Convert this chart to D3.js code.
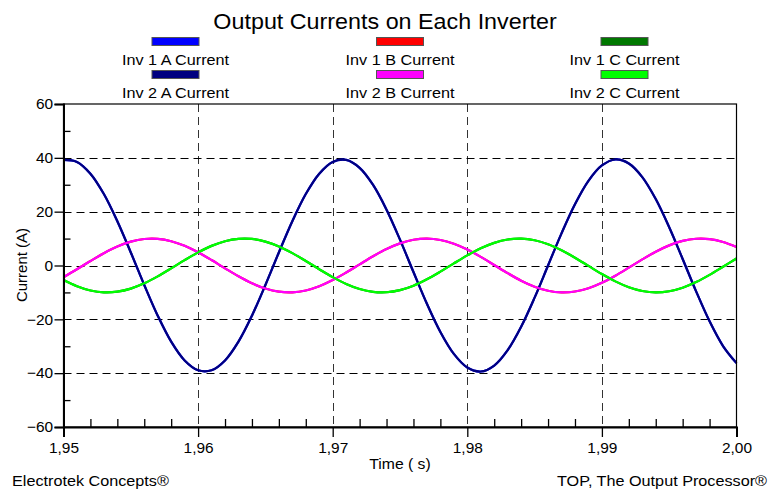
<!DOCTYPE html>
<html><head><meta charset="utf-8">
<script src="https://cdn.jsdelivr.net/npm/d3@7/dist/d3.min.js"></script>
<style>
html,body{margin:0;padding:0;background:#fff;}
svg{display:block;font-family:Arial,"Liberation Sans",sans-serif;}
</style></head><body>
<svg id="chart" width="770" height="491"></svg>
<script>
// ---- data ----
const time = [1.950,1.951,1.952,1.953,1.954,1.955,1.956,1.957,1.958,1.959,
  1.960,1.961,1.962,1.963,1.964,1.965,1.966,1.967,1.968,1.969,
  1.970,1.971,1.972,1.973,1.974,1.975,1.976,1.977,1.978,1.979,
  1.980,1.981,1.982,1.983,1.984,1.985,1.986,1.987,1.988,1.989,
  1.990,1.991,1.992,1.993,1.994,1.995,1.996,1.997,1.998,1.999,2.000];

const inv1A = [39.23,38.49,34.12,26.55,16.46,4.84,-7.24,-18.64,-28.29,-35.27,
  -38.93,-38.93,-35.27,-28.29,-18.64,-7.24,4.84,16.46,26.55,34.12,
  38.49,39.23,36.28,29.92,20.74,9.61,-2.43,-14.23,-24.70,-32.85,
  -37.90,-39.38,-37.16,-31.44,-22.76,-11.95,0.00,11.95,22.76,31.44,
  37.16,39.38,37.90,32.85,24.70,14.23,2.43,-9.61,-20.74,-29.92,-36.28];
const inv1B = [-4.35,-1.41,1.66,4.57,7.05,8.87,9.85,9.91,9.03,7.31,
  4.89,2.02,-1.05,-4.01,-6.60,-8.57,-9.73,-9.97,-9.28,-7.71,
  -5.42,-2.62,0.43,3.44,6.12,8.23,9.57,10.00,9.49,8.09,
  5.93,3.21,0.19,-2.85,-5.63,-7.87,-9.37,-9.99,-9.67,-8.44,
  -6.41,-3.78,-0.80,2.26,5.11,7.47,9.14,9.94,9.81,8.75,6.87];
const inv1C = [-5.39,-7.69,-9.27,-9.97,-9.73,-8.58,-6.62,-4.04,-1.08,1.99,
  4.87,7.29,9.02,9.90,9.86,8.88,7.07,4.59,1.69,-1.38,
  -4.32,-6.85,-8.74,-9.80,-9.94,-9.15,-7.49,-5.13,-2.29,0.77,
  3.75,6.39,8.42,9.66,9.99,9.38,7.89,5.65,2.89,-0.15,
  -3.18,-5.90,-8.07,-9.48,-10.00,-9.57,-8.25,-6.15,-3.47,-0.46,2.59];
const inv2A = [39.23,38.49,34.12,26.55,16.46,4.84,-7.24,-18.64,-28.29,-35.27,
  -38.93,-38.93,-35.27,-28.29,-18.64,-7.24,4.84,16.46,26.55,34.12,
  38.49,39.23,36.28,29.92,20.74,9.61,-2.43,-14.23,-24.70,-32.85,
  -37.90,-39.38,-37.16,-31.44,-22.76,-11.95,0.00,11.95,22.76,31.44,
  37.16,39.38,37.90,32.85,24.70,14.23,2.43,-9.61,-20.74,-29.92,-36.28];
const inv2B = [-4.35,-1.41,1.66,4.57,7.05,8.87,9.85,9.91,9.03,7.31,
  4.89,2.02,-1.05,-4.01,-6.60,-8.57,-9.73,-9.97,-9.28,-7.71,
  -5.42,-2.62,0.43,3.44,6.12,8.23,9.57,10.00,9.49,8.09,
  5.93,3.21,0.19,-2.85,-5.63,-7.87,-9.37,-9.99,-9.67,-8.44,
  -6.41,-3.78,-0.80,2.26,5.11,7.47,9.14,9.94,9.81,8.75,6.87];
const inv2C = [-5.39,-7.69,-9.27,-9.97,-9.73,-8.58,-6.62,-4.04,-1.08,1.99,
  4.87,7.29,9.02,9.90,9.86,8.88,7.07,4.59,1.69,-1.38,
  -4.32,-6.85,-8.74,-9.80,-9.94,-9.15,-7.49,-5.13,-2.29,0.77,
  3.75,6.39,8.42,9.66,9.99,9.38,7.89,5.65,2.89,-0.15,
  -3.18,-5.90,-8.07,-9.48,-10.00,-9.57,-8.25,-6.15,-3.47,-0.46,2.59];

const seriesNames = ["Inv 1 A Current","Inv 1 B Current","Inv 1 C Current",
                     "Inv 2 A Current","Inv 2 B Current","Inv 2 C Current"];
const seriesColors = ["#0000ff","#ff0000","#007800","#000080","#ff00ff","#00ff00"];
const seriesValues = [inv1A, inv1B, inv1C, inv2A, inv2B, inv2C];

const xTicks = [1.95,1.96,1.97,1.98,1.99,2.00];
const xTickLabels = ["1,95","1,96","1,97","1,98","1,99","2,00"];
const xMinorTicks = [1.952,1.954,1.956,1.958,1.962,1.964,1.966,1.968,1.972,1.974,1.976,1.978,
                     1.982,1.984,1.986,1.988,1.992,1.994,1.996,1.998];
const yTicks = [-60,-40,-20,0,20,40,60];
const yMinorTicks = [-50,-30,-10,10,30,50];

// ---- drawing ----
const svg = d3.select("#chart");
const L = 63.5, R = 736.5, T = 104, B = 427;
const x = d3.scaleLinear().domain([1.95, 2.00]).range([L, R]);
const y = d3.scaleLinear().domain([-60, 60]).range([B, T]);

function addText(px, py, str, size, anchor, sx, rot) {
  return svg.append("text")
    .attr("transform", `translate(${px},${py})` + (rot ? ` rotate(${rot})` : "") + ` scale(${sx},1)`)
    .attr("text-anchor", anchor).attr("font-size", size).attr("fill", "#000").text(str);
}

// title
addText(385, 28.5, "Output Currents on Each Inverter", 22, "middle", 1.06);

// legend
const colX = [175.5, 400, 624.5];
seriesNames.forEach((name, i) => {
  const col = i % 3, row = Math.floor(i / 3);
  const cx = colX[col];
  const sy = row === 0 ? 37.5 : 70.5;
  svg.append("rect").attr("x", cx - 23.5).attr("y", sy).attr("width", 47).attr("height", 8)
    .attr("fill", seriesColors[i]).attr("stroke", "#555").attr("stroke-width", 1);
  addText(cx, row === 0 ? 64.5 : 97.5, name, 15, "middle", 1.08);
});

// grid
const grid = svg.append("g");
grid.selectAll(".gx").data(xTicks.slice(1, -1)).enter().append("line")
  .attr("x1", d => Math.round(x(d)) + 0.5).attr("x2", d => Math.round(x(d)) + 0.5)
  .attr("y1", T).attr("y2", B)
  .attr("stroke", "#333").attr("stroke-width", 1).attr("stroke-dasharray", "8,5");
grid.selectAll(".gy").data(yTicks.slice(1, -1)).enter().append("line")
  .attr("x1", L).attr("x2", R)
  .attr("y1", d => Math.round(y(d)) + 0.5).attr("y2", d => Math.round(y(d)) + 0.5)
  .attr("stroke", "#000").attr("stroke-width", 1).attr("stroke-dasharray", "8,5");

// series
const line = d3.line().x((d, i) => x(time[i])).y(d => y(d)).curve(d3.curveCatmullRom.alpha(0.5));
const plot = svg.append("g");
seriesValues.forEach((vals, i) => {
  plot.append("path").datum(vals).attr("d", line).attr("fill", "none")
    .attr("stroke", seriesColors[i]).attr("stroke-width", 2.2);
});

// frame
svg.append("rect").attr("x", L).attr("y", T).attr("width", R - L).attr("height", B - T)
  .attr("fill", "none").attr("stroke", "#000").attr("stroke-width", 1.2);

// axes
const yAxis = d3.axisLeft(y).tickValues(yTicks).tickSize(9).tickPadding(1).tickFormat(d3.format("d"));
const gy = svg.append("g").attr("transform", `translate(${L},0)`).call(yAxis);
gy.select(".domain").attr("stroke-width", 2);
gy.selectAll(".tick line").attr("stroke-width", 1.3);
gy.selectAll("text").attr("font-size", 15).attr("fill","#000")
  .attr("font-family","Arial, 'Liberation Sans', sans-serif").attr("transform", "scale(1.03,1)");

const yMinor = d3.axisRight(y).tickValues(yMinorTicks).tickSize(7).tickFormat("");
const gym = svg.append("g").attr("transform", `translate(${L},0)`).call(yMinor);
gym.select(".domain").remove();
gym.selectAll(".tick line").attr("stroke-width", 1.3);

const xAxis = d3.axisBottom(x).tickValues(xTicks).tickSize(10).tickPadding(5)
  .tickFormat((d, i) => xTickLabels[i]);
const gx = svg.append("g").attr("transform", `translate(0,${B})`).call(xAxis);
gx.select(".domain").attr("stroke-width", 2);
gx.selectAll(".tick line").attr("stroke-width", 1.3);
gx.selectAll("text").attr("font-size", 15).attr("fill","#000")
  .attr("font-family","Arial, 'Liberation Sans', sans-serif").attr("transform", "scale(1.03,1)");

const xMinor = d3.axisTop(x).tickValues(xMinorTicks).tickSize(8).tickFormat("");
const gxm = svg.append("g").attr("transform", `translate(0,${B})`).call(xMinor);
gxm.select(".domain").remove();
gxm.selectAll(".tick line").attr("stroke-width", 1.3);

// axis titles
addText(26.5, 265, "Current (A)", 15, "middle", 1.0, -90);
addText(400, 469, "Time ( s)", 15, "middle", 1.05);

// footers
addText(12, 486, "Electrotek Concepts®", 15, "start", 1.08);
addText(767, 486, "TOP, The Output Processor®", 15, "end", 1.08);
</script>
</body></html>
